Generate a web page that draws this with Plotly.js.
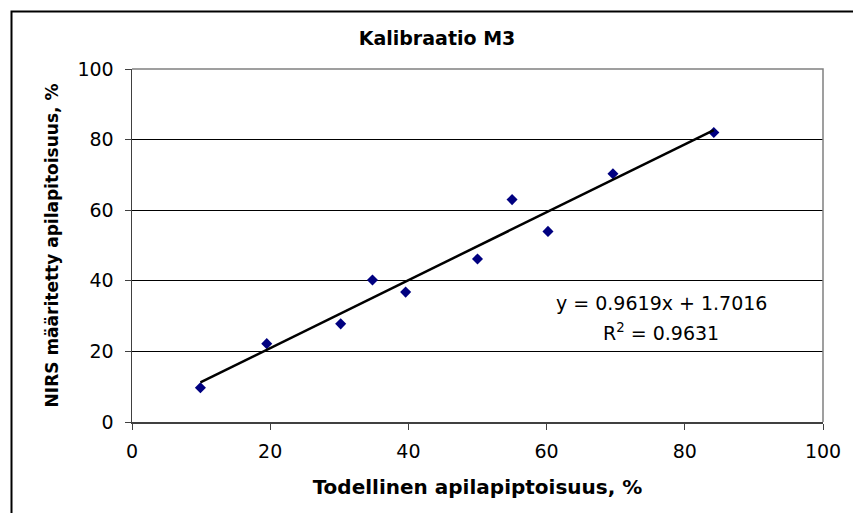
<!DOCTYPE html>
<html>
<head>
<meta charset="utf-8">
<script src="https://cdn.plot.ly/plotly-3.0.1.min.js"></script>
<style>
  html, body { margin: 0; padding: 0; background: #fff; }
  #chart { width: 853px; height: 513px; }
</style>
</head>
<body>
<div id="chart"></div>
<script>
// Data
const actualClover = [9.9, 19.5, 30.2, 34.8, 39.6, 50.0, 55.0, 60.2, 69.6, 84.2];
const nirsClover   = [9.7, 22.2, 27.8, 40.2, 36.8, 46.2, 63.0, 54.0, 70.3, 82.0];
const trendSlope = 0.9619;
const trendIntercept = 1.7016;
const rSquared = 0.9631;
const tickValues = [0, 20, 40, 60, 80, 100];

const titleText = 'Kalibraatio M3';
const xTitle = 'Todellinen apilapiptoisuus, %';
const yTitle = 'NIRS määritetty apilapitoisuus, %';

const xMin = Math.min(...actualClover);
const xMax = Math.max(...actualClover);
const trendX = [xMin, xMax];
const trendY = trendX.map(v => trendSlope * v + trendIntercept);

const FONT = 'DejaVu Sans, Liberation Sans, Arial, sans-serif';

const traces = [
  {
    x: actualClover, y: nirsClover,
    type: 'scatter', mode: 'markers',
    marker: { symbol: 'diamond', size: 8.5, color: '#000080', line: { width: 0 } },
    hoverinfo: 'x+y', showlegend: false
  },
  {
    x: trendX, y: trendY,
    type: 'scatter', mode: 'lines',
    line: { color: '#000000', width: 2.5 },
    hoverinfo: 'skip', showlegend: false
  }
];

const layout = {
  width: 853, height: 513,
  margin: { l: 132, r: 30, t: 69, b: 91 },
  paper_bgcolor: '#ffffff', plot_bgcolor: '#ffffff',
  font: { family: FONT, color: '#000000', size: 19 },
  title: {
    text: '<b>' + titleText + '</b>',
    font: { family: FONT, size: 19, color: '#000000' },
    x: 437 / 853, xanchor: 'center', xref: 'container',
    y: 1 - 38 / 513, yanchor: 'middle', yref: 'container'
  },
  xaxis: {
    range: [0, 100], tickvals: tickValues, ticktext: tickValues.map(String),
    showgrid: false, zeroline: false,
    showline: true, linecolor: '#404040', linewidth: 1.5,
    ticks: 'outside', ticklen: 6, tickwidth: 1, tickcolor: '#404040',
    tickfont: { family: FONT, size: 19, color: '#000000' },
    ticklabelstandoff: 6,
    title: { text: '<b>' + xTitle + '</b>', font: { family: FONT, size: 20, color: '#000000' }, standoff: 18 },
    fixedrange: true
  },
  yaxis: {
    range: [0, 100], tickvals: tickValues, ticktext: tickValues.map(String),
    showgrid: true, gridcolor: '#000000', gridwidth: 1,
    zeroline: false,
    showline: true, linecolor: '#404040', linewidth: 1.5,
    ticks: 'outside', ticklen: 6, tickwidth: 1, tickcolor: '#404040',
    tickfont: { family: FONT, size: 19, color: '#000000' },
    ticklabelstandoff: 7,
    title: { text: '<b>' + yTitle + '</b>', font: { family: FONT, size: 17, color: '#000000' }, standoff: 14 },
    fixedrange: true
  },
  shapes: [
    // top and right plot border (grey)
    { type: 'path', xref: 'paper', yref: 'paper', layer: 'above',
      path: 'M 0,1 L 1,1 L 1,0', line: { color: '#808080', width: 1.5 } },
    // outer chart frame (extends past the right and bottom edges)
    { type: 'rect', xref: 'paper', yref: 'paper', layer: 'above',
      x0: (11.5 - 132) / 691, x1: 1.08, y0: -0.32, y1: (422 - 11.5) / 353,
      line: { color: '#000000', width: 2 }, fillcolor: 'rgba(0,0,0,0)' }
  ],
  annotations: [
    { xref: 'x', yref: 'y', x: 76.6, y: 33.6, xanchor: 'center', yanchor: 'middle',
      text: 'y = ' + trendSlope.toFixed(4) + 'x + ' + trendIntercept.toFixed(4),
      showarrow: false, font: { family: FONT, size: 19, color: '#000000' } },
    { xref: 'x', yref: 'y', x: 76.6, y: 25.6, xanchor: 'center', yanchor: 'middle',
      text: 'R<sup>2</sup> = ' + rSquared.toFixed(4),
      showarrow: false, font: { family: FONT, size: 19, color: '#000000' } }
  ]
};

Plotly.newPlot('chart', traces, layout, { displayModeBar: false, staticPlot: true });
</script>
</body>
</html>
